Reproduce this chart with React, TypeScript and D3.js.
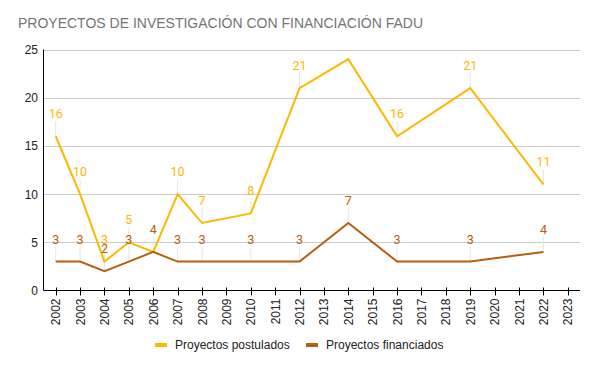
import React from "react";
import * as d3 from "d3";

const years = ["2002","2003","2004","2005","2006","2007","2008","2009","2010","2011","2012","2013","2014","2015","2016","2017","2018","2019","2020","2021","2022","2023"];
const postulados: (number | null)[] = [16,10,3,5,4,10,7,null,8,null,21,null,24,null,16,null,null,21,null,null,11,null];
const financiados: (number | null)[] = [3,3,2,3,4,3,3,null,3,null,3,null,7,null,3,null,null,3,null,null,4,null];
const showPostLabel: boolean[] = [true,true,true,true,false,true,true,false,true,false,true,false,false,false,true,false,false,true,false,false,true,false];
const yTicks = [0,5,10,15,20,25];
const seriesNames = ["Proyectos postulados","Proyectos financiados"];
const colors = ["#FBB900","#B5600F"];

export default function App() {
  const W = 596, H = 368;
  const left = 43.5, right = 580, top = 49.5, bottom = 290.5;
  const x = d3.scaleBand<string>().domain(years).range([left, right]).padding(0);
  const y = d3.scaleLinear().domain([0, 25]).range([bottom, top]);
  const cx = (yr: string) => (x(yr) as number) + x.bandwidth() / 2;

  const series = [postulados, financiados].map((vals) =>
    years.map((yr, i) => ({ yr, v: vals[i], i })).filter((d) => d.v !== null) as { yr: string; v: number; i: number }[]
  );
  const line = d3.line<{ yr: string; v: number }>().x((d) => cx(d.yr)).y((d) => y(d.v));

  return (
    <svg width={W} height={H} style={{ position: "absolute", left: 0, top: 0 }}>
      <rect width={W} height={H} fill="#fff" />
      <text x={18} y={27.5} fontFamily="Liberation Sans, Arial, sans-serif" fontSize={14} fill="#757575">
        PROYECTOS DE INVESTIGACIÓN CON FINANCIACIÓN FADU
      </text>
      {yTicks.map((t) => (
        <g key={t}>
          {t > 0 && <line x1={left} x2={right} y1={Math.round(y(t)) + 0.5} y2={Math.round(y(t)) + 0.5} stroke="#CCCCCC" strokeWidth={1} />}
          <text x={38} y={y(t) + 4.5} textAnchor="end" fontFamily="Liberation Sans, Arial, sans-serif" fontSize={12} fill="#222">{t}</text>
        </g>
      ))}
      {series.map((s, si) =>
        s.filter((d) => si === 1 || showPostLabel[d.i]).map((d) => (
          <line key={`l${si}-${d.yr}`} x1={cx(d.yr)} x2={cx(d.yr)} y1={y(d.v) - 15} y2={y(d.v)} stroke="#E6E6E6" strokeWidth={1} />
        ))
      )}
      <line x1={left} x2={left} y1={top} y2={bottom} stroke="#000" strokeWidth={1} />
      <line x1={left} x2={right} y1={bottom} y2={bottom} stroke="#000" strokeWidth={1} />
      {years.map((yr) => (
        <g key={yr}>
          <line x1={Math.round(cx(yr)) + 0.5} x2={Math.round(cx(yr)) + 0.5} y1={bottom - 3} y2={bottom + 5} stroke="#000" strokeWidth={1} />
          <text transform={`translate(${cx(yr) + 4.5},${bottom + 8}) rotate(-90)`} textAnchor="end" fontFamily="Liberation Sans, Arial, sans-serif" fontSize={12} fill="#222">{yr}</text>
        </g>
      ))}
      {series.map((s, si) => (
        <path key={`p${si}`} d={line(s) || ""} fill="none" stroke={colors[si]} strokeWidth={2} strokeLinejoin="miter" />
      ))}
      {series.map((s, si) =>
        s.filter((d) => si === 1 || showPostLabel[d.i]).map((d) => (
          <text key={`t${si}-${d.yr}`} x={cx(d.yr)} y={y(d.v) - 18} textAnchor="middle" fontFamily="Roboto, sans-serif" fontSize={12.5} fill={colors[si]}>{d.v}</text>
        ))
      )}
      {seriesNames.map((n, i) => {
        const lx = [155, 306][i];
        return (
          <g key={n}>
            <rect x={lx} y={343} width={12} height={4} fill={colors[i]} />
            <text x={lx + 20} y={349} fontFamily="Liberation Sans, Arial, sans-serif" fontSize={12} fill="#222">{n}</text>
          </g>
        );
      })}
    </svg>
  );
}
